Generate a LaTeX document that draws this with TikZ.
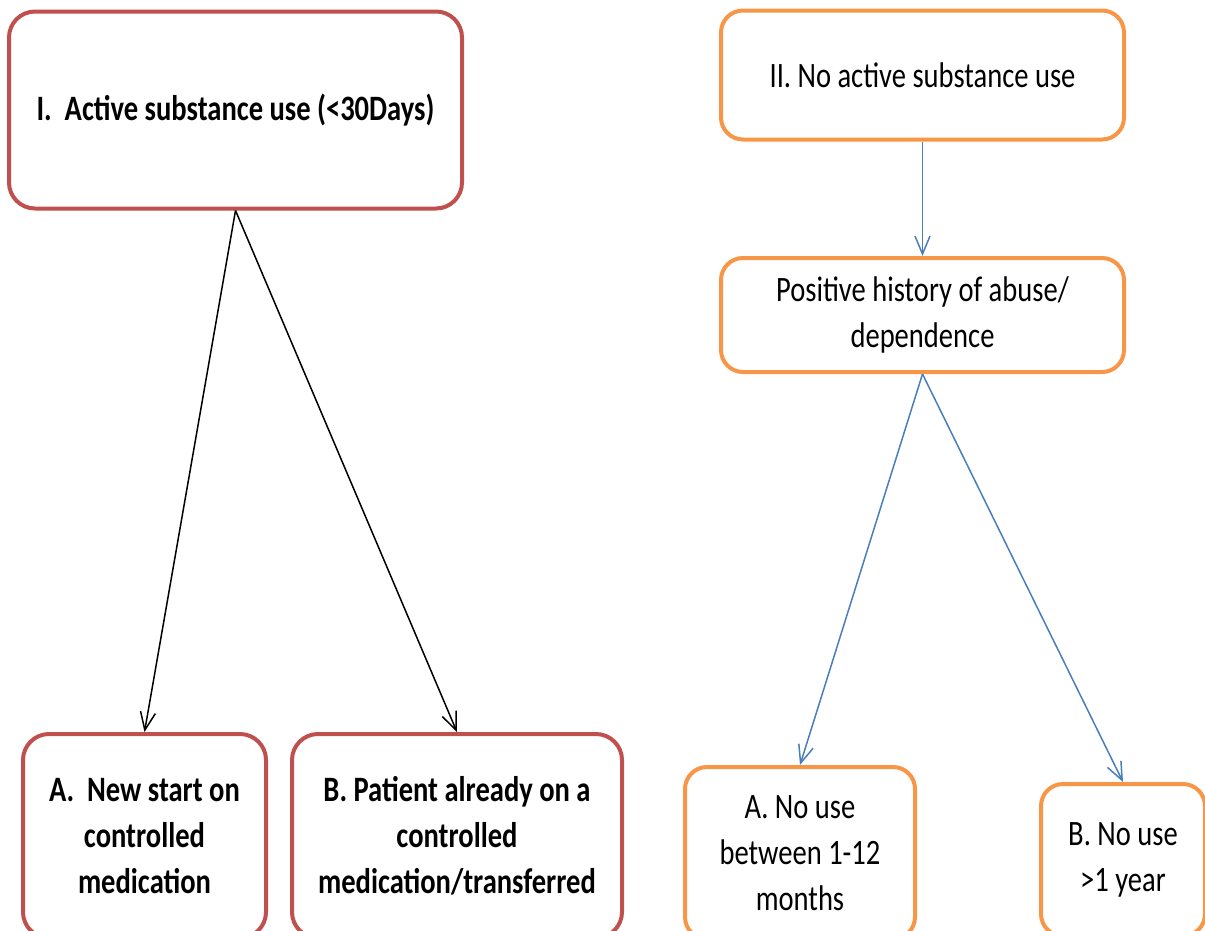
\documentclass[tikz,border=0pt]{standalone}
\usepackage{fontspec}
\setmainfont[FakeStretch=0.8]{Carlito}
\usetikzlibrary{arrows.meta}
\definecolor{boxred}{HTML}{C0504D}
\definecolor{boxorange}{HTML}{F79646}
\definecolor{linkblue}{HTML}{4A7EBB}
\begin{document}
\begin{tikzpicture}[x=1pt,y=-1pt,
  redbox/.style={draw=boxred, line width=4pt, rounded corners=26pt, inner sep=0pt, align=center,
    font=\fontsize{35.7}{46}\selectfont\bfseries},
  orangebox/.style={draw=boxorange, line width=4pt, rounded corners=22pt, inner sep=0pt, align=center,
    font=\fontsize{35.7}{46}\selectfont},
  arr/.style={line width=1.5pt, -{Straight Barb[length=18pt,width=15pt,line width=1.5pt]}}]
\clip (0,0) rectangle (1205,930);
% left branch
\node[redbox, minimum width=453, minimum height=197] (active) at (235.5,110) {I.\ \ Active substance use (<30Days)};
\node[redbox, minimum width=243, minimum height=204] (newstart) at (144.5,836) {A.\ \ New start on\\controlled\\medication};
\node[redbox, minimum width=330, minimum height=204] (already) at (457,836) {B. Patient already on a\\controlled\\medication/transferred};
\draw[arr] (active.south) -- (newstart.north);
\draw[arr] (active.south) -- (already.north);
% right branch
\node[orangebox, minimum width=403, minimum height=129] (noactive) at (922.5,75) {II. No active substance use};
\node[orangebox, minimum width=403, minimum height=114] (history) at (922.5,315) {Positive history of abuse/\\dependence};
\node[orangebox, minimum width=230, minimum height=172] (nouseA) at (800,853) {A. No use\\between 1-12\\months};
\node[orangebox, minimum width=164, minimum height=152] (nouseB) at (1123,860) {B. No use\\>1 year};
\draw[arr, linkblue] (noactive.south) -- (history.north);
\draw[arr, linkblue] (history.south) -- (nouseA.north);
\draw[arr, linkblue] (history.south) -- (nouseB.north);
\end{tikzpicture}
\end{document}
